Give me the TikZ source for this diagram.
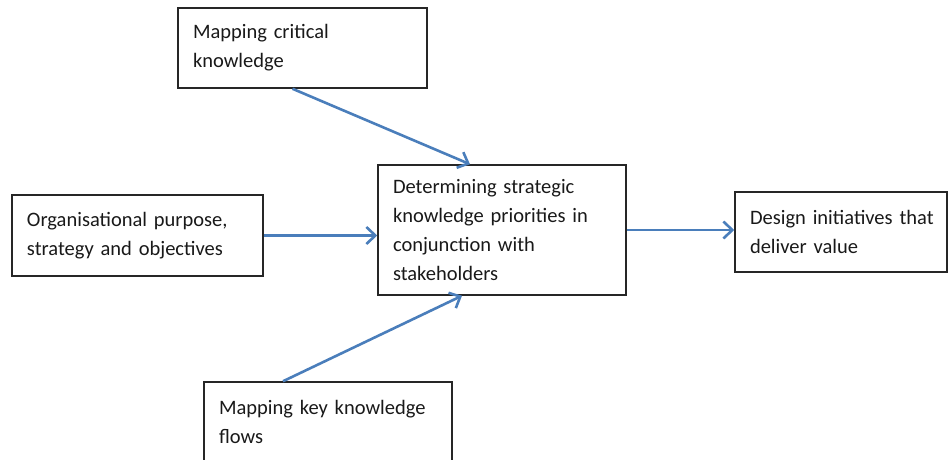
\documentclass[tikz,border=0pt]{standalone}
\usepackage{fontspec}
\setmainfont{Carlito}
\usetikzlibrary{arrows.meta}
\definecolor{flowblue}{RGB}{74,126,187}

\begin{document}
\begin{tikzpicture}[x=1pt, y=-1pt,
	box/.style={draw=black!85, line width=1.5pt, rectangle, align=left, inner xsep=15pt,
		text=black!90, font=\fontsize{20.5}{29}\selectfont},
	flow/.style={draw=flowblue, line width=2.6pt, -{Straight Barb[length=9pt,width=17pt]}}]
	\useasboundingbox (0,0) rectangle (948,459);
	\clip (0,0) rectangle (948,459);
	% the five boxes
	\node[box, minimum width=249pt, minimum height=80pt, text width=219pt] (critical) at (302.5,48) {Mapping critical\\knowledge};
	\node[box, minimum width=251pt, minimum height=81pt, text width=221pt] (purpose) at (137.5,235.5) {Organisational purpose,\\strategy and objectives};
	\node[box, minimum width=248pt, minimum height=130pt, text width=218pt] (priorities) at (502,230) {Determining strategic\\knowledge priorities in\\conjunction with\\stakeholders};
	\node[box, minimum width=212pt, minimum height=80pt, text width=182pt] (design) at (841,232) {\mbox{Design initiatives that}\\deliver value};
	\node[box, minimum width=248pt, minimum height=80pt, text width=218pt] (flows) at (328,422) {Mapping key knowledge\\flows};
	% arrows into and out of the middle box
	\draw[flow] ([xshift=-10pt]critical.south) -- ([xshift=-32pt]priorities.north);
	\draw[flow] (purpose.east) -- (priorities.west |- purpose.east);
	\draw[flow] ([xshift=-45pt]flows.north) -- ([xshift=-40pt]priorities.south);
	\draw[flow] (priorities.east) -- (priorities.east -| design.west);
\end{tikzpicture}
\end{document}
